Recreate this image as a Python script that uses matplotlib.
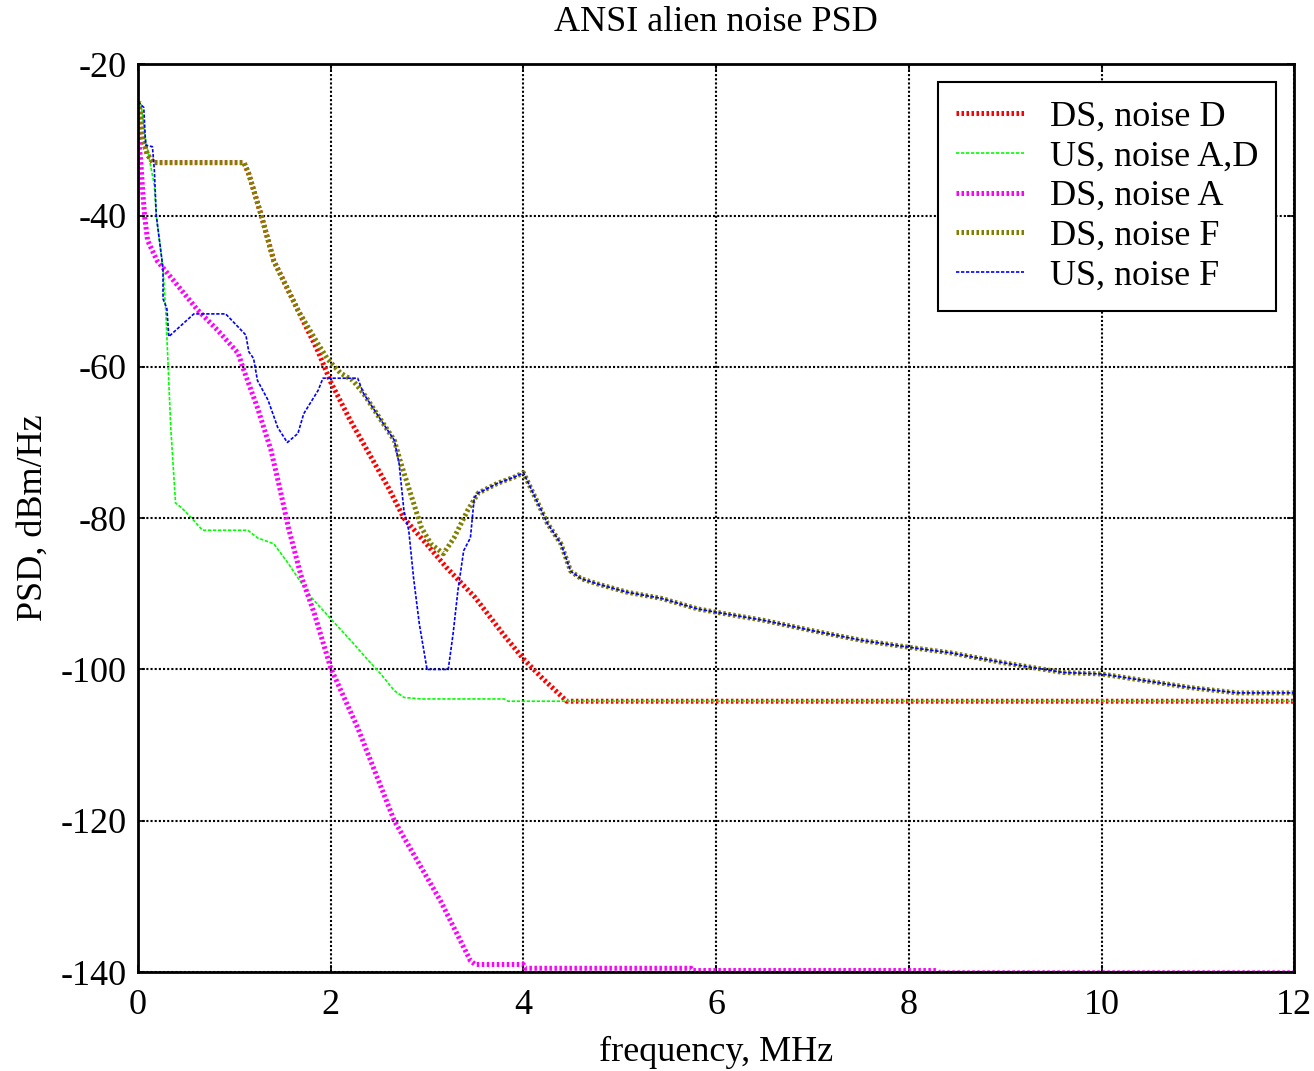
#!/usr/bin/env python3
"""ANSI alien noise PSD: DS/US noise models A, D, F vs frequency."""
import matplotlib

matplotlib.use("Agg")
import matplotlib.pyplot as plt

plt.rcParams["font.family"] = ["Liberation Serif", "DejaVu Serif"]
plt.rcParams["axes.unicode_minus"] = False

# values (frequency in MHz, PSD in dBm/Hz)
ds_d_f = [0, 0.02, 0.05, 0.1, 0.16, 1.1, 1.15, 1.28, 1.41, 1.66, 1.87, 2.0,
          2.2, 2.4, 2.6, 2.76, 3.0, 3.2, 3.5, 3.8, 4.0, 4.2, 4.45, 12]
ds_d_psd = [-25, -26, -30, -32, -33, -33, -34.5, -40, -46, -52.5, -58, -62,
            -67, -71.5, -76, -80, -83.5, -86.5, -90.5, -95.5, -98.6, -101.2, -104.2, -104.2]

us_ad_f = [0, 0.03, 0.08, 0.17, 0.19, 0.26, 0.29, 0.31, 0.34, 0.39, 0.45, 0.55,
           0.67, 1.14, 1.24, 1.41, 1.56, 1.66, 1.8, 2.0, 2.21, 2.39, 2.52, 2.66,
           2.76, 2.94, 3.8, 3.84, 12]
us_ad_psd = [-24.8, -25, -30, -36, -40, -47, -53, -59, -68, -78, -78.6, -79.9,
             -81.6, -81.6, -82.6, -83.4, -86, -87.9, -90.5, -93.3, -96.2, -98.8, -100.6, -102.8,
             -103.7, -103.9, -103.9, -104.2, -104.2]

ds_a_f = [0, 0.03, 0.05, 0.07, 0.1, 0.2, 0.37, 0.62, 0.83, 1.04, 1.1, 1.24,
          1.38, 1.48, 1.56, 1.69, 1.83, 2.0, 2.28, 2.66, 3.14, 3.45, 3.5, 4.0,
          4.02, 5.74, 5.76, 8.3, 8.32, 12]
ds_a_psd = [-29, -33, -37, -40.2, -43.3, -46, -48.6, -52.5, -55.2, -58.2, -60.5, -65.4,
            -71, -76.5, -81.2, -87.5, -92.6, -99.8, -107.7, -120, -130.6, -138.5, -139, -139,
            -139.5, -139.5, -139.8, -139.8, -140.1, -140.1]

# shared part of the F curves: peak at 4 MHz and the slow roll-off
peak_f = [3.53, 3.73, 3.9, 4.0, 4.15, 4.25, 4.39, 4.49]
peak_psd = [-76.7, -75.4, -74.6, -74, -78, -80.7, -83.4, -87]
tail_f = [4.6, 4.77, 5.08, 5.43, 5.81, 6.03, 6.49, 7.01, 7.53, 8.02, 8.43,
          9.02, 9.6, 10.0, 10.92, 11.41, 12]
tail_psd = [-88, -88.7, -89.8, -90.6, -92, -92.5, -93.5, -94.9, -96.2, -97.1, -97.8,
            -99.2, -100.4, -100.6, -102.4, -103.1, -103.1]

ds_f_f = [0, 0.02, 0.05, 0.1, 0.16, 1.1, 1.15, 1.28, 1.41, 1.66, 1.87, 1.97,
          2.1, 2.23, 2.34, 2.52, 2.66, 2.73, 2.86, 2.94, 3.04, 3.17, 3.28, 3.42] + peak_f + tail_f
ds_f_psd = [-25, -26, -30, -32, -33, -33, -34.5, -40, -46, -52.5, -57, -59,
            -60.8, -61.8, -63.5, -67, -69.7, -72.8, -78, -81.2, -83.4, -84.7, -82.6, -79] + peak_psd + tail_psd

us_f_f = [0, 0.06, 0.08, 0.15, 0.17, 0.19, 0.26, 0.26, 0.3, 0.32, 0.58, 0.91,
          1.12, 1.15, 1.2, 1.24, 1.35, 1.45, 1.55, 1.66, 1.72, 1.87, 1.92, 2.28,
          2.34, 2.52, 2.66, 2.71, 2.76, 2.81, 2.86, 2.92, 3.0, 3.22, 3.27, 3.32,
          3.38, 3.45, 3.49] + peak_f + tail_f
us_f_psd = [-25, -25.7, -30.7, -30.9, -34, -40, -47, -51, -52.3, -56, -53, -53,
            -55.8, -58, -58.9, -61.8, -64.4, -68, -70, -68.8, -66.2, -63.1, -61.5, -61.5,
            -63.5, -67, -69.7, -72.8, -79, -81.6, -87.9, -94, -100, -100, -95.3, -89.6,
            -84.3, -82.6, -77.3] + peak_psd + tail_psd

series = [
    ("DS, noise D", ds_d_f, ds_d_psd, "#ff0000", True),
    ("US, noise A,D", us_ad_f, us_ad_psd, "#00ff00", False),
    ("DS, noise A", ds_a_f, ds_a_psd, "#ff00ff", True),
    ("DS, noise F", ds_f_f, ds_f_psd, "#808000", True),
    ("US, noise F", us_f_f, us_f_psd, "#0000ff", False),
]

fig = plt.figure(figsize=(13.14, 10.71), dpi=100)
ax = fig.add_axes([0.105, 0.0924, 0.88, 0.8476])

for label, f, psd, color, thick in series:
    if thick:
        ax.plot(f, psd, color=color, lw=3.6, ls=(0, (0.5, 0.5)), label=label)
    else:
        ax.plot(f, psd, color=color, lw=1.2, ls=(0, (2, 1)), label=label)

ax.set_xlim(0, 12)
ax.set_ylim(-140, -20)
ax.set_xticks(range(0, 13, 2))
ax.set_yticks(range(-140, -19, 20))
ax.grid(True, color="black", ls=(0, (1, 1)), lw=1.5)
ax.tick_params(direction="in", length=5, width=1.2, labelsize=26, top=True, right=True)
ax.tick_params(axis="x", pad=12)
ax.tick_params(axis="y", pad=8)
for sp in ax.spines.values():
    sp.set_linewidth(2)

ax.set_title("ANSI alien noise PSD", fontsize=26, pad=24)
ax.set_xlabel("frequency, MHz", fontsize=26, labelpad=10)
ax.set_ylabel("PSD, dBm/Hz", fontsize=26, labelpad=8)

leg = ax.legend(loc="upper right", fontsize=26, fancybox=False, framealpha=1,
                edgecolor="black", handlelength=1.9, handletextpad=0.7,
                labelspacing=0.18, borderaxespad=0.5, borderpad=0.5)
leg.get_frame().set_linewidth(1.5)

fig.savefig("out.png", dpi=100)
